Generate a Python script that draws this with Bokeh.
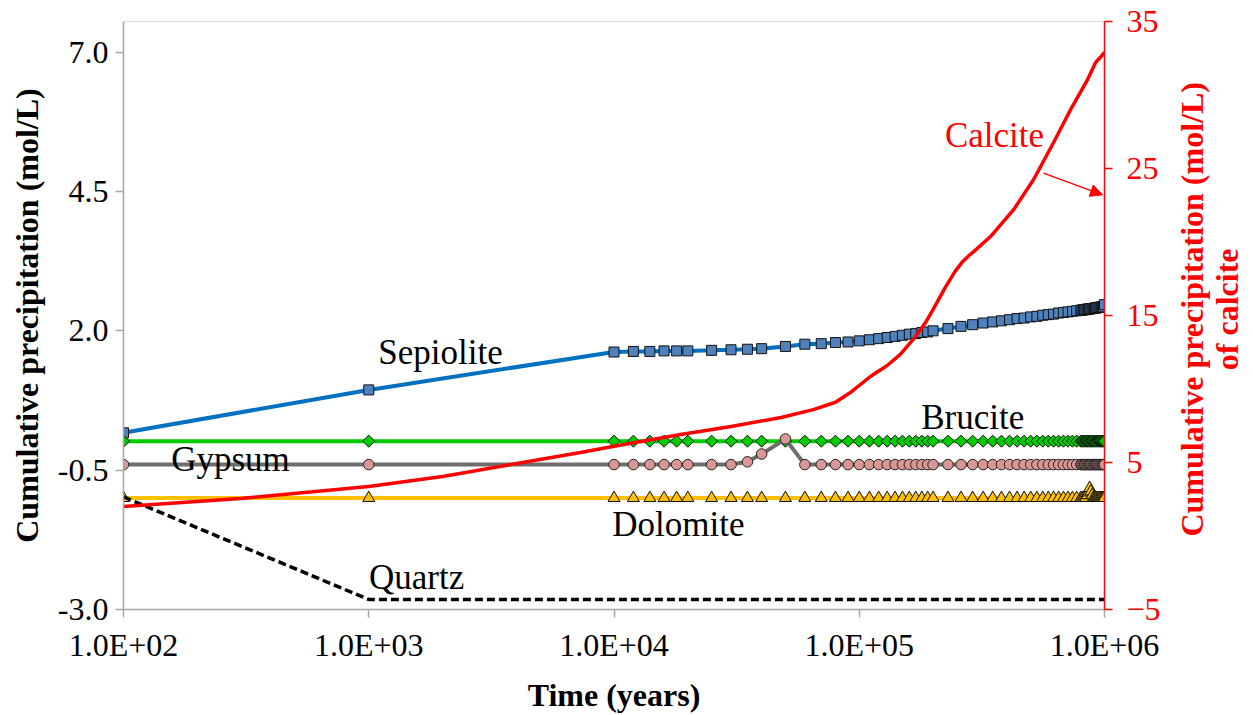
import math
from bokeh.plotting import figure
from bokeh.layouts import row
from bokeh.models import (Range1d, LinearAxis, FixedTicker, CustomJSTickFormatter,
                          PrintfTickFormatter, Label, Arrow, NormalHead, ColumnDataSource)
from bokeh.embed import file_html
from bokeh.resources import INLINE

# ---------------- data ----------------
time = [100, 1000, 10000, 12000, 14000, 16000, 18000, 20000, 25000, 30000,
        35000, 40000, 50000, 60000, 70000, 80000, 90000, 100000,
        110000, 120000, 130000, 140000, 150000, 160000, 170000, 180000, 190000, 200000,
        230000, 260000, 290000, 320000, 350000, 380000, 410000, 440000, 470000, 500000,
        530000, 560000, 590000, 620000, 650000, 680000, 710000, 740000, 770000,
        800000, 810000, 820000, 830000, 840000, 850000, 860000, 870000, 880000, 890000,
        900000, 910000, 920000, 930000, 940000, 950000, 960000, 970000, 980000, 990000,
        1000000]

sepiolite = [0.17, 0.94, 1.62, 1.63, 1.63, 1.64, 1.64, 1.64, 1.65, 1.66,
             1.67, 1.68, 1.72, 1.76, 1.77, 1.79, 1.80, 1.82,
             1.84, 1.86, 1.88, 1.90, 1.92, 1.94, 1.95, 1.97, 1.98, 2.00,
             2.04, 2.08, 2.11, 2.14, 2.16, 2.18, 2.20, 2.22, 2.23, 2.25,
             2.26, 2.28, 2.29, 2.30, 2.32, 2.33, 2.34, 2.35, 2.36,
             2.37, 2.37, 2.38, 2.38, 2.38, 2.39, 2.39, 2.39, 2.40, 2.40,
             2.40, 2.41, 2.41, 2.41, 2.42, 2.42, 2.42, 2.43, 2.43, 2.43,
             2.47]

brucite = [0.02, 0.02, 0.02, 0.02, 0.02, 0.02, 0.02, 0.02, 0.02, 0.02,
           0.02, 0.02, 0.02, 0.02, 0.02, 0.02, 0.02, 0.02,
           0.02, 0.02, 0.02, 0.02, 0.02, 0.02, 0.02, 0.02, 0.02, 0.02,
           0.02, 0.02, 0.02, 0.02, 0.02, 0.02, 0.02, 0.02, 0.02, 0.02,
           0.02, 0.02, 0.02, 0.02, 0.02, 0.02, 0.02, 0.02, 0.02,
           0.02, 0.02, 0.02, 0.02, 0.02, 0.02, 0.02, 0.02, 0.02, 0.02,
           0.02, 0.02, 0.02, 0.02, 0.02, 0.02, 0.02, 0.02, 0.02, 0.02,
           0.02]

gypsum = [-0.40, -0.40, -0.40, -0.40, -0.40, -0.40, -0.40, -0.40, -0.40, -0.40,
          -0.35, -0.21, 0.06, -0.40, -0.40, -0.40, -0.40, -0.40,
          -0.40, -0.40, -0.40, -0.40, -0.40, -0.40, -0.40, -0.40, -0.40, -0.40,
          -0.40, -0.40, -0.40, -0.40, -0.40, -0.40, -0.40, -0.40, -0.40, -0.40,
          -0.40, -0.40, -0.40, -0.40, -0.40, -0.40, -0.40, -0.40, -0.40,
          -0.40, -0.40, -0.40, -0.40, -0.40, -0.40, -0.40, -0.40, -0.40, -0.40,
          -0.40, -0.40, -0.40, -0.40, -0.40, -0.40, -0.40, -0.40, -0.40, -0.40,
          -0.40]

dolomite = [-1.00, -1.00, -1.00, -1.00, -1.00, -1.00, -1.00, -1.00, -1.00, -1.00,
            -1.00, -1.00, -1.00, -1.00, -1.00, -1.00, -1.00, -1.00,
            -1.00, -1.00, -1.00, -1.00, -1.00, -1.00, -1.00, -1.00, -1.00, -1.00,
            -1.00, -1.00, -1.00, -1.00, -1.00, -1.00, -1.00, -1.00, -1.00, -1.00,
            -1.00, -1.00, -1.00, -1.00, -1.00, -1.00, -1.00, -1.00, -1.00,
            -1.00, -1.00, -1.00, -1.00, -1.00, -0.95, -0.90, -0.82, -0.88, -0.95,
            -1.00, -1.00, -1.00, -1.00, -1.00, -1.00, -1.00, -1.00, -1.00, -1.00,
            -1.00]

quartz_time = [100, 1000, 1000000]
quartz = [-0.98, -2.82, -2.82]

calcite_time = [100, 300, 1000, 2000, 3800, 7300, 10000, 18700, 30000, 48000,
                65000, 80000, 92000, 111000, 130000, 147000, 166000, 186000, 200000,
                224000, 246000, 262000, 279000, 300000, 343000, 426000, 514000,
                620000, 727000, 853000, 919000, 960000, 1000000]
calcite = [2.0, 2.55, 3.37, 4.05, 4.86, 5.68, 6.1, 6.9, 7.45, 8.06,
           8.6, 9.1, 9.76, 10.85, 11.6, 12.35, 13.37, 14.5, 15.4,
           16.9, 18.0, 18.6, 19.05, 19.5, 20.37, 22.2, 24.25,
           26.77, 29.0, 31.05, 32.2, 32.55, 32.9]

x_ticks = [100, 1000, 10000, 100000, 1000000]
y_left_ticks = [-3.0, -0.5, 2.0, 4.5, 7.0]
y_right_ticks = [-5, 5, 15, 25, 35]

right_title_lines = ["Cumulative precipitation (mol/L)", "of calcite"]

# ---------------- main figure ----------------
FONT = "Liberation Serif"
MAIN_W = 1164
SIDE_W = 1253 - MAIN_W

p = figure(width=MAIN_W, height=715, x_axis_type="log",
           x_range=Range1d(100, 1000000), y_range=Range1d(-3.0, 7.55),
           output_backend="svg", toolbar_location=None,
           min_border_left=123, min_border_right=MAIN_W - 1104,
           min_border_top=21, min_border_bottom=105)
p.background_fill_color = "white"
p.border_fill_color = "white"
p.outline_line_color = "#D9D9D9"
p.xgrid.visible = False
p.ygrid.visible = False

xa = p.xaxis[0]
xa.ticker = FixedTicker(ticks=x_ticks)
xa.formatter = CustomJSTickFormatter(code="""
const parts = tick.toExponential(1).toUpperCase().split('E');
let e = parseInt(parts[1]);
const sign = e < 0 ? '-' : '+';
e = Math.abs(e);
return parts[0] + 'E' + sign + (e < 10 ? '0' + e : '' + e);
""")
xa.axis_label = "Time (years)"

ya = p.yaxis[0]
ya.ticker = FixedTicker(ticks=y_left_ticks)
ya.formatter = PrintfTickFormatter(format="%.1f")
ya.axis_label = "Cumulative precipitation (mol/L)"

for ax in (xa, ya):
    ax.axis_line_color = "#A6A6A6"
    ax.axis_line_width = 1.5
    ax.major_tick_line_color = "#A6A6A6"
    ax.major_tick_line_width = 1.5
    ax.major_tick_out = 8
    ax.major_tick_in = 0
    ax.minor_tick_line_color = None
    ax.major_label_text_font = FONT
    ax.major_label_text_font_size = "32px"
    ax.major_label_text_color = "black"
    ax.axis_label_text_font = FONT
    ax.axis_label_text_font_size = "32px"
    ax.axis_label_text_font_style = "bold"
    ax.axis_label_text_color = "black"
xa.major_label_standoff = 9
xa.axis_label_standoff = 11
ya.major_label_standoff = 7
ya.axis_label_standoff = 10

p.extra_y_ranges = {"calc": Range1d(-5, 35)}
ra = LinearAxis(y_range_name="calc", ticker=FixedTicker(ticks=y_right_ticks))
ra.axis_line_color = "#FF0000"
ra.axis_line_width = 1.5
ra.major_tick_line_color = "#FF0000"
ra.major_tick_line_width = 1.5
ra.major_tick_out = 8
ra.major_tick_in = 0
ra.minor_tick_line_color = None
ra.major_label_text_font = FONT
ra.major_label_text_font_size = "32px"
ra.major_label_text_color = "#FF0000"
ra.major_label_standoff = 14
p.add_layout(ra, "right")

# ---------------- series ----------------
src = ColumnDataSource(dict(t=time, sep=sepiolite, bru=brucite, gyp=gypsum, dol=dolomite))

p.line("t", "sep", source=src, line_color="#0070C0", line_width=4)
p.scatter("t", "sep", source=src, marker="square", size=10,
          fill_color="#4F81BD", line_color="#111111", line_width=1)

p.line("t", "bru", source=src, line_color="#00CC00", line_width=4)
p.scatter("t", "bru", source=src, marker="square", angle=math.pi / 4, size=8.5,
          fill_color="#00CC00", line_color="#111111", line_width=1)

p.line("t", "gyp", source=src, line_color="#6E6E6E", line_width=4)
p.scatter("t", "gyp", source=src, marker="circle", size=10.5,
          fill_color="#D99694", line_color="#222222", line_width=1)

p.line("t", "dol", source=src, line_color="#FFC000", line_width=4)
p.scatter("t", "dol", source=src, marker="triangle", size=12,
          fill_color="#FFC000", line_color="#111111", line_width=1)

p.line(quartz_time, quartz, line_color="black", line_width=3.5, line_dash="8 4")

p.line(calcite_time, calcite, y_range_name="calc", line_color="#FF0000", line_width=3.5)

# ---------------- annotations ----------------
def lab(fig, txt, x, y, color="black", size="35px", bold=False, angle=0.0):
    fig.add_layout(Label(x=x, y=y, text=txt, text_font=FONT, text_font_size=size,
                         text_color=color, text_align="center", text_baseline="middle",
                         text_font_style="bold" if bold else "normal", angle=angle))

lab(p, "Sepiolite", 1961, 1.62)
lab(p, "Gypsum", 273, -0.31)
lab(p, "Brucite", 290000, 0.44)
lab(p, "Dolomite", 18300, -1.48)
lab(p, "Quartz", 1567, -2.43)
lab(p, "Calcite", 356000, 5.51, color="#FF0000")

p.add_layout(Arrow(end=NormalHead(size=12, fill_color="#FF0000", line_color="#FF0000"),
                   x_start=564000, y_start=4.83, x_end=982000, y_end=4.44,
                   line_color="#FF0000", line_width=1.5))

# ---------------- side panel holding the two-line right-axis title ----------------
s = figure(width=SIDE_W, height=715, x_range=Range1d(0, SIDE_W), y_range=Range1d(0, 715),
           output_backend="svg", toolbar_location=None,
           min_border=0, min_border_left=0, min_border_right=0,
           min_border_top=0, min_border_bottom=0)
s.axis.visible = False
s.grid.visible = False
s.outline_line_color = None
s.background_fill_color = "white"
s.border_fill_color = "white"
lab(s, right_title_lines[0], 1191 - MAIN_W, 715 - 350, color="#FF0000", size="32px",
    bold=True, angle=math.pi / 2)
lab(s, right_title_lines[1], 1226 - MAIN_W, 715 - 350, color="#FF0000", size="32px",
    bold=True, angle=math.pi / 2)

layout = row(p, s, spacing=0)
open("out.html", "w").write(file_html(layout, INLINE))
